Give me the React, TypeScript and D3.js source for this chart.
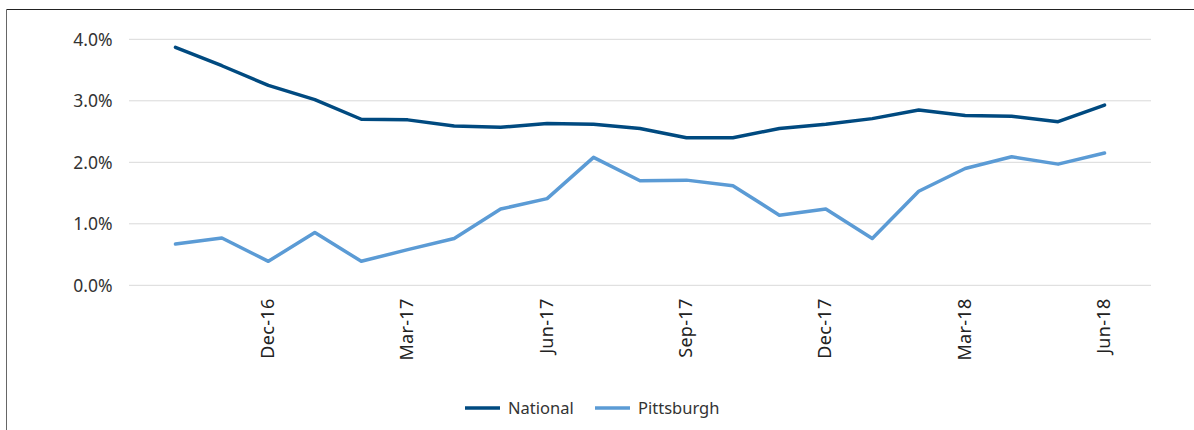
import React from "react";
import * as d3 from "d3";

const months = ["Oct-16","Nov-16","Dec-16","Jan-17","Feb-17","Mar-17","Apr-17","May-17","Jun-17","Jul-17","Aug-17","Sep-17","Oct-17","Nov-17","Dec-17","Jan-18","Feb-18","Mar-18","Apr-18","May-18","Jun-18"];
const national = [3.87,3.57,3.25,3.02,2.70,2.69,2.59,2.57,2.63,2.62,2.55,2.40,2.40,2.55,2.62,2.71,2.85,2.76,2.75,2.66,2.93];
const pittsburgh = [0.67,0.77,0.39,0.86,0.39,0.58,0.76,1.24,1.41,2.08,1.70,1.71,1.62,1.14,1.24,0.76,1.53,1.90,2.09,1.97,2.15];
const yTicks = [0, 1, 2, 3, 4];
const labelMonths = ["Dec-16","Mar-17","Jun-17","Sep-17","Dec-17","Mar-18","Jun-18"];
const seriesNames = ["National", "Pittsburgh"];
const colors = ["#004a80", "#5b9bd5"];

const FONT = "'Noto Sans', sans-serif";

export default function App() {
  const W = 1194, H = 430;
  const left = 129, right = 1151, top = 39.3, bottom = 285.3;
  const x = d3.scaleLinear().domain([-1, months.length]).range([left, right]);
  const y = d3.scaleLinear().domain([0, 4]).range([bottom, top]);
  const line = d3.line<number>().x((_, i) => x(i)).y((d) => y(d));
  const series = [national, pittsburgh];
  const legendX = [465, 595];

  return (
    <svg width={W} height={H} style={{ position: "absolute", left: 0, top: 0, background: "#fff" }}>
      <rect x={0} y={0} width={W} height={H} fill="#fff" />
      <line x1={6.5} y1={9.5} x2={W} y2={9.5} stroke="#222" strokeWidth={1} />
      <line x1={6.5} y1={9.5} x2={6.5} y2={H} stroke="#666" strokeWidth={1} />
      {yTicks.map((t) => (
        <g key={t}>
          <line x1={left} x2={right} y1={y(t)} y2={y(t)} stroke="#d9d9d9" strokeWidth={1} />
          <text x={112.5} y={y(t)} dy="0.36em" textAnchor="end" fontFamily={FONT} fontSize={17.5} fill="#333">
            {d3.format(".1f")(t) + "%"}
          </text>
        </g>
      ))}
      {labelMonths.map((m) => {
        const i = months.indexOf(m);
        return (
          <text key={m} transform={`translate(${x(i) - 1},298.5) rotate(-90)`} textAnchor="end" dy="0.36em"
            fontFamily={FONT} fontSize={18} fill="#222" letterSpacing={0.3}>
            {m}
          </text>
        );
      })}
      {series.map((s, k) => (
        <path key={k} d={line(s) || ""} fill="none" stroke={colors[k]} strokeWidth={3.5} strokeLinejoin="round" strokeLinecap="round" />
      ))}
      {seriesNames.map((n, k) => (
        <g key={n}>
          <line x1={legendX[k]} x2={legendX[k] + 35} y1={408} y2={408} stroke={colors[k]} strokeWidth={3.5} />
          <text x={legendX[k] + 43} y={408} dy="0.36em" fontFamily={FONT} fontSize={16.5} fill="#333">{n}</text>
        </g>
      ))}
    </svg>
  );
}
